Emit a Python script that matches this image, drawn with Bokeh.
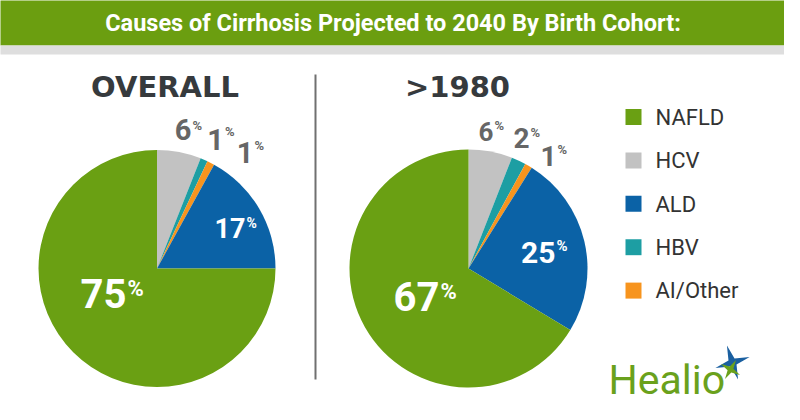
import numpy as np
from bokeh.plotting import figure
from bokeh.models import Range1d, ColumnDataSource
from bokeh.core.properties import value
from bokeh.embed import file_html
from bokeh.resources import INLINE

# ---------------- data ----------------
categories = ["NAFLD", "HCV", "ALD", "HBV", "AI/Other"]
overall = [75, 6, 17, 1, 1]
born_after_1980 = [67, 6, 25, 2, 1]
cat_colors = ["#6aa013", "#c2c2c2", "#0b62a6", "#1d9ea3", "#f7941e"]
slice_order = ["HCV", "HBV", "AI/Other", "ALD", "NAFLD"]   # clockwise from 12 o'clock
panel_titles = ["OVERALL", ">1980"]
chart_title = "Causes of Cirrhosis Projected to 2040 By Birth Cohort:"

# ---------------- layout (reference pixel coords, y down) ----------------
W, H = 800, 420
def Y(y):
    return H - y

K = 0.34  # baseline correction factor (em)
def TB(baseline, size):
    return Y(baseline - K * size)

p = figure(width=784, height=404, x_range=Range1d(8, 792), y_range=Range1d(8, 412),
           output_backend="svg", toolbar_location=None, min_border=0,
           x_axis_location=None, y_axis_location=None)
p.grid.visible = False
p.outline_line_color = None
p.background_fill_color = "white"
p.border_fill_color = "white"

# title band
p.quad(left=[0], right=[W], top=[Y(0)], bottom=[Y(53)], fill_color="#6b9e10", line_color=None)
p.quad(left=[0], right=[W], top=[Y(53)], bottom=[Y(62)], fill_color="#dedede", line_color=None)
p.text(x=[400.5], y=[TB(38.5, 23.5)], text=[chart_title], text_font=value("Roboto"),
       text_font_style="bold", text_font_size="23.5px", text_color="white",
       text_align="center", text_baseline="alphabetic")

# divider
p.segment(x0=[323], y0=[Y(82)], x1=[323], y1=[Y(387)], line_color="#707070", line_width=2)

color_of = dict(zip(categories, cat_colors))

pies = [
    dict(values=overall, cx=164.5, cy=276, r=118.5, title_x=172.5,
         # per slice (slice_order): number right edge x, baseline y, size, pct size, pct baseline
         lab=[(199, 147, 29, 13, 137), (231.5, 157, 29, 13, 143), (261, 170, 29, 13, 157.5),
              (253, 245, 27, 14, 235), (134, 315, 40, 22, 303)]),
    dict(values=born_after_1980, cx=476, cy=276, r=119, title_x=465,
         lab=[(501, 148, 26, 13, 137.5), (537, 155, 28, 13, 144), (564, 173, 28, 13, 161.5),
              (563, 270, 30, 15, 258.5), (447, 318, 40, 22, 306)]),
]
inside = {"ALD", "NAFLD"}

for pie, ttl in zip(pies, panel_titles):
    vals = dict(zip(categories, pie["values"]))
    ordered = np.array([vals[c] for c in slice_order], dtype=float)
    frac = ordered / ordered.sum()
    cum = np.concatenate([[0], np.cumsum(frac)])
    start = np.pi / 2 - 2 * np.pi * cum[:-1]
    end = np.pi / 2 - 2 * np.pi * cum[1:]
    src = ColumnDataSource(dict(start=start, end=end, color=[color_of[c] for c in slice_order]))
    p.wedge(x=pie["cx"], y=Y(pie["cy"]), radius=pie["r"], start_angle="start", end_angle="end",
            direction="clock", fill_color="color", line_color=None, source=src)

    # numbers and superscript %
    nx, ny, ns, px, py, ps, tc = [], [], [], [], [], [], []
    texts = []
    for c, (xr, yb, sz, psz, pyb) in zip(slice_order, pie["lab"]):
        texts.append(str(vals[c]))
        nx.append(xr); ny.append(TB(yb, sz)); ns.append(f"{sz}px")
        px.append(xr + 1); py.append(TB(pyb, psz)); ps.append(f"{psz}px")
        tc.append("white" if c in inside else "#666666")
    lsrc = ColumnDataSource(dict(x=nx, y=ny, t=texts, s=ns, c=tc))
    p.text(x="x", y="y", text="t", text_font_size="s", text_color="c", source=lsrc,
           text_font=value("Roboto"), text_font_style="bold", text_align="right",
           text_baseline="alphabetic")
    psrc = ColumnDataSource(dict(x=px, y=py, t=["%"] * len(px), s=ps, c=tc))
    p.text(x="x", y="y", text="t", text_font_size="s", text_color="c", source=psrc,
           text_font=value("Roboto"), text_font_style="bold", text_align="left",
           text_baseline="alphabetic")

    p.text(x=[pie["title_x"]], y=[TB(104.5, 29)], text=[ttl], text_font=value("DejaVu Sans"),
           text_font_style="bold", text_font_size="29px", text_color="#363a3d",
           text_align="center", text_baseline="alphabetic")

# legend
leg_y = [124.5 + 43.4 * i for i in range(len(categories))]
p.scatter(x=[641] * len(categories), y=[Y(v) for v in leg_y], marker="square", size=16,
          fill_color=cat_colors, line_color=None)
p.text(x=[663] * len(categories), y=[TB(v + 7.8, 22) for v in leg_y], text=categories,
       text_font=value("Roboto"), text_font_size="22px", text_color="#333333",
       text_align="left", text_baseline="alphabetic")

# Healio logo
p.text(x=[616], y=[TB(401, 41)], text=["Healio"], text_font=value("Roboto"), text_font_size="41px",
       text_color="#6aa11c", text_align="left", text_baseline="alphabetic")

def star(cx, cy, ro, ri, rot):
    a = np.arange(8) * np.pi / 4 + rot
    r = np.where(np.arange(8) % 2 == 0, ro, ri)
    return cx + r * np.cos(a), Y(cy) + r * np.sin(a)

sx, sy = star(740, 370, 18, 4.5, np.deg2rad(18))
p.patch(sx, sy, fill_color="#1a5fa0", line_color=None)
gx, gy = star(738, 377, 11, 3, np.deg2rad(-30))
p.patch(gx, gy, fill_color="#6aa11c", line_color=None)

open("out.html", "w").write(file_html(p, INLINE))
